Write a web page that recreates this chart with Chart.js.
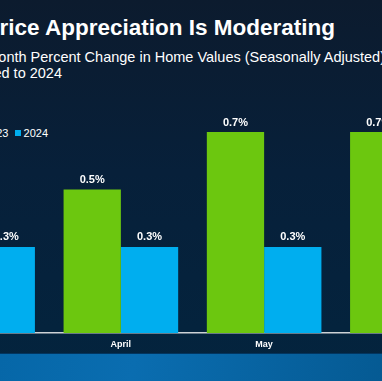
<!DOCTYPE html>
<html>
<head>
<meta charset="utf-8">
<script src="https://cdn.jsdelivr.net/npm/chart.js@4.4.1/dist/chart.umd.min.js"></script>
<style>
  html, body { margin: 0; padding: 0; }
  body {
    width: 382px; height: 381px; overflow: hidden; position: relative;
    background: linear-gradient(180deg, #0c1b2e 0%, #07203a 45%, #03243e 100%);
    font-family: "Liberation Sans", Arial, sans-serif; color: #fff;
  }
  #chart { position: absolute; left: -94px; top: 0; }
  .line { position: absolute; white-space: nowrap; }
  #title { right: 47px; top: 16px; font-size: 22.5px; font-weight: bold; line-height: 23px; }
  #sub1 { right: -3px; top: 49px; font-size: 14.5px; line-height: 16px; }
  #sub2 { right: 320px; top: 65px; font-size: 14.5px; line-height: 16px; }
  #legend { position: absolute; left: -25px; top: 127px; font-size: 11px; line-height: 12px; white-space: nowrap; }
  #legend span.box { display: inline-block; width: 6px; height: 6px; margin: 0 3px 1px 0; }
  #footer {
    position: absolute; left: 0; top: 353px; width: 382px; height: 28px;
    border-top: 1px solid #02355f;
    background: linear-gradient(100deg, #0667a8 0%, #0a6db0 35%, #055a93 100%);
  }
</style>
</head>
<body>
<div id="title" class="line">Home Price Appreciation Is Moderating</div>
<div id="sub1" class="line">Month-Over-Month Percent Change in Home Values (Seasonally Adjusted)</div>
<div id="sub2" class="line">2023 Compared to 2024</div>
<div id="legend"><span class="box" style="background:#6cc70f"></span>2023&nbsp;&nbsp;<span class="box" style="background:#00aeef"></span>2024</div>
<canvas id="chart" width="573" height="381"></canvas>
<div id="footer"></div>
<script>
const months = ['March', 'April', 'May', 'June'];
const values2023 = [0.6, 0.5, 0.7, 0.7];
const values2024 = [0.3, 0.3, 0.3, 0.2];

const valueLabels = {
    id: 'valueLabels',
    afterDatasetsDraw(chart) {
        const ctx = chart.ctx;
        ctx.save();
        ctx.fillStyle = '#ffffff';
        ctx.font = 'bold 11px "Liberation Sans", Arial, sans-serif';
        ctx.textAlign = 'center';
        ctx.textBaseline = 'bottom';
        chart.data.datasets.forEach((ds, i) => {
            chart.getDatasetMeta(i).data.forEach((bar, j) => {
                ctx.fillText(ds.data[j].toFixed(1) + '%', bar.x, bar.y - 4);
            });
        });
        ctx.restore();
    }
};

new Chart(document.getElementById('chart').getContext('2d'), {
    type: 'bar',
    data: {
        labels: months,
        datasets: [{
            label: '2023',
            data: values2023,
            backgroundColor: '#6cc70f',
            categoryPercentage: 0.8,
            barPercentage: 1.0
        }, {
            label: '2024',
            data: values2024,
            backgroundColor: '#00aeef',
            categoryPercentage: 0.8,
            barPercentage: 1.0
        }]
    },
    options: {
        responsive: false,
        animation: false,
        devicePixelRatio: 1,
        layout: { padding: { top: 103.4, left: 0, right: 0, bottom: 0 } },
        plugins: { legend: { display: false }, tooltip: { enabled: false } },
        scales: {
            x: {
                grid: { display: false, drawTicks: false },
                border: { color: '#cdd2d6', width: 1.5 },
                ticks: {
                    color: '#ffffff',
                    padding: 6,
                    font: { family: '"Liberation Sans", Arial, sans-serif', size: 9, weight: 'bold' }
                },
                afterFit(scale) { scale.height = 48; }
            },
            y: { display: false, min: 0, max: 0.8 }
        }
    },
    plugins: [valueLabels]
});
</script>
</body>
</html>
